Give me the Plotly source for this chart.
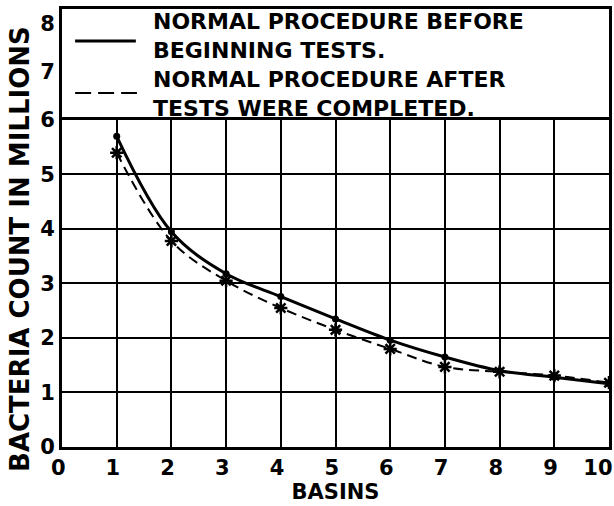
import plotly.graph_objects as go

basins = [1, 2, 3, 4, 5, 6, 7, 8, 9, 10]
before_tests = [5.70, 3.95, 3.18, 2.76, 2.35, 1.96, 1.65, 1.40, 1.28, 1.16]
after_tests = [5.40, 3.78, 3.05, 2.55, 2.15, 1.80, 1.47, 1.38, 1.31, 1.18]

x_ticks = [0, 1, 2, 3, 4, 5, 6, 7, 8, 9, 10]
x_ticktext = ["0", "1", "2", "3", "4", "5", "6", "7", "8", "9", "10"]
y_ticks = [0, 1, 2, 3, 4, 5, 6]
y_ticktext = ["0", "1", "2", "3", "4", "5", "6"]
y2_ticks = [7, 8]
y2_ticktext = ["7", "8"]

legend_texts = ["NORMAL PROCEDURE BEFORE<br>BEGINNING TESTS.",
                "NORMAL PROCEDURE AFTER<br>TESTS WERE COMPLETED."]
legend_text_y = [0.938, 0.806]
x_title = "BASINS"
y_title = "BACTERIA COUNT IN MILLIONS"

FONT = dict(family="DejaVu Sans", size=21, color="black", weight="bold")
BIG = dict(FONT, size=22)
YT = dict(FONT, size=26)
DOM = 0.7466

fig = go.Figure()
fig.add_trace(go.Scatter(
    x=basins, y=before_tests, mode="lines+markers",
    line=dict(color="black", width=3, shape="spline"),
    marker=dict(symbol="circle", size=7, color="black"),
    showlegend=False))
fig.add_trace(go.Scatter(
    x=basins, y=after_tests, mode="lines+markers",
    line=dict(color="black", width=2, dash="10px,6px", shape="spline"),
    marker=dict(symbol="asterisk-open", size=11, color="black",
                line=dict(color="black", width=2.5)),
    showlegend=False))
# empty trace so the legend-box axes (x2/y2) are drawn
fig.add_trace(go.Scatter(x=[None], y=[None], xaxis="x2", yaxis="y2",
                         showlegend=False, hoverinfo="skip"))

fig.update_layout(
    width=614, height=506,
    margin=dict(l=62, r=5, t=9, b=59, autoexpand=False),
    paper_bgcolor="white", plot_bgcolor="white",
    font=FONT,
    xaxis=dict(range=[0, 10], tickvals=x_ticks, ticktext=x_ticktext,
               showgrid=True, gridcolor="black", gridwidth=1.5,
               showline=True, linecolor="black", linewidth=3, mirror=True,
               ticks="", zeroline=False, tickfont=FONT,
               ticklabelposition="outside left", ticklabelshift=5,
               title=dict(text=x_title, font=FONT, standoff=6)),
    yaxis=dict(domain=[0, DOM], range=[0, 6], tickvals=y_ticks, ticktext=y_ticktext,
               showgrid=True, gridcolor="black", gridwidth=1.5,
               showline=True, linecolor="black", linewidth=3, mirror=True,
               ticks="", zeroline=False, tickfont=FONT),
    xaxis2=dict(domain=[0, 1], range=[0, 10], anchor="y2", side="top",
                showgrid=False, showticklabels=False, ticks="", zeroline=False,
                showline=True, linecolor="black", linewidth=3, mirror=False),
    yaxis2=dict(domain=[DOM, 1], range=[6, 8.31], anchor="x2",
                tickvals=y2_ticks, ticktext=y2_ticktext, showgrid=False,
                ticks="", zeroline=False, tickfont=FONT,
                showline=True, linecolor="black", linewidth=3, mirror=True),
)

# legend samples
fig.add_shape(type="line", xref="paper", yref="paper",
              x0=0.024, x1=0.135, y0=0.927, y1=0.927,
              line=dict(color="black", width=3))
fig.add_shape(type="line", xref="paper", yref="paper",
              x0=0.024, x1=0.137, y0=0.808, y1=0.808,
              line=dict(color="black", width=2, dash="16px,7px"))
for txt, yy in zip(legend_texts, legend_text_y):
    fig.add_annotation(text=txt, xref="paper", yref="paper", x=0.162, y=yy,
                       xanchor="left", yanchor="middle", align="left",
                       showarrow=False, font=BIG)

fig.add_annotation(text=y_title, xref="paper", yref="paper", x=-0.077, y=0.452,
                   xanchor="center", yanchor="middle", textangle=-90,
                   showarrow=False, font=YT)

fig.write_html("out.html", config={"displayModeBar": False},
               post_script="document.body.style.margin='0';")
